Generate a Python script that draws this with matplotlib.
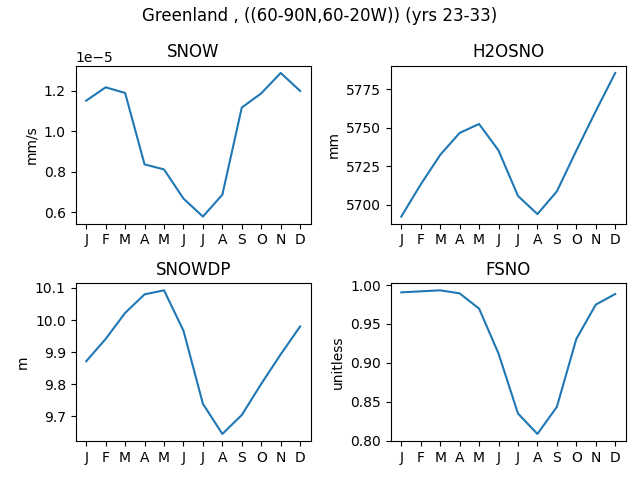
import matplotlib
matplotlib.use('Agg')
import matplotlib.pyplot as plt

meses = ['J', 'F', 'M', 'A', 'M', 'J', 'J', 'A', 'S', 'O', 'N', 'D']
x = list(range(12))

# valores
snow = [1.152e-5, 1.218e-5, 1.190e-5, 0.837e-5, 0.812e-5, 0.668e-5,
        0.579e-5, 0.687e-5, 1.118e-5, 1.188e-5, 1.289e-5, 1.200e-5]
h2osno = [5692.2, 5713.1, 5732.3, 5746.6, 5752.4, 5735.2,
          5705.6, 5693.8, 5708.6, 5735.1, 5760.8, 5785.6]
snowdp = [9.8715, 9.941, 10.022, 10.080, 10.0925, 9.967,
          9.739, 9.645, 9.704, 9.801, 9.893, 9.980]
fsno = [0.9906, 0.9919, 0.9932, 0.9893, 0.9697, 0.912,
        0.835, 0.8088, 0.8436, 0.9308, 0.9748, 0.9885]

variables = [('SNOW', snow, 'mm/s'),
             ('H2OSNO', h2osno, 'mm'),
             ('SNOWDP', snowdp, 'm'),
             ('FSNO', fsno, 'unitless')]

fig, axs = plt.subplots(2, 2, figsize=(6.4, 4.8), dpi=100)
for ax, (nombre, datos, unidad) in zip(axs.flat, variables):
    ax.plot(x, datos)
    ax.set_title(nombre)
    ax.set_ylabel(unidad)
    ax.set_xticks(x)
    ax.set_xticklabels(meses)

fig.suptitle('Greenland , ((60-90N,60-20W)) (yrs 23-33)', y=0.985)
plt.subplots_adjust(left=0.118, right=0.978, top=0.863, bottom=0.081,
                    wspace=0.339, hspace=0.376)
plt.savefig('out.png')
